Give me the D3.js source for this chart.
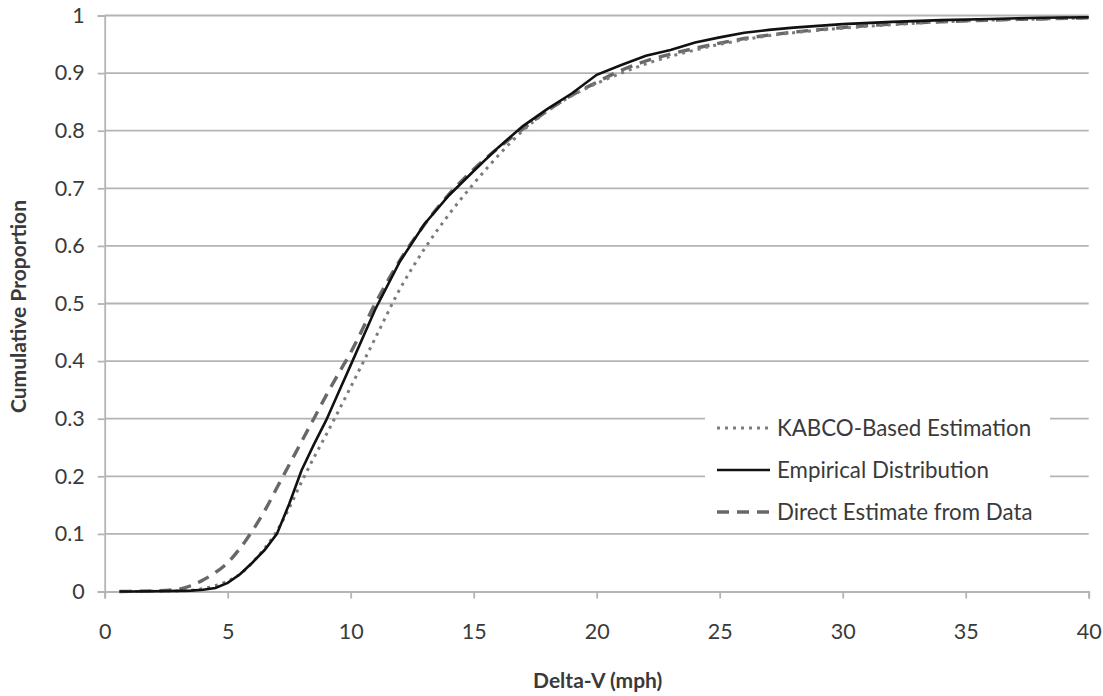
<!DOCTYPE html>
<html>
<head>
<meta charset="utf-8">
<script src="https://cdn.jsdelivr.net/npm/d3@7"></script>
<style>
  html, body { margin: 0; padding: 0; background: #fff; }
  svg { display: block; }
  text { font-family: Lato, "Open Sans", sans-serif; fill: #3a3a3a; }
</style>
</head>
<body>
<svg id="chart" width="1103" height="696"></svg>
<script>
// ---- data ----
const deltaV = [0.6, 1, 2, 3, 3.5, 4, 4.5, 5, 5.5, 6, 6.5, 7, 7.5, 8, 8.5, 9, 9.5, 10, 11, 12, 13, 14, 15, 16, 17, 18, 19, 20, 21, 22, 23, 24, 25, 26, 27, 28, 30, 32, 34, 36, 38, 40];
const kabco     = [0, 0, 0.0003, 0.001, 0.002, 0.005, 0.01, 0.018, 0.03, 0.05, 0.075, 0.105, 0.145, 0.19, 0.232, 0.272, 0.313, 0.355, 0.44, 0.525, 0.595, 0.655, 0.708, 0.757, 0.8, 0.834, 0.861, 0.882, 0.9, 0.916, 0.929, 0.94, 0.95, 0.958, 0.965, 0.97, 0.978, 0.984, 0.989, 0.992, 0.994, 0.996];
const empirical = [0, 0, 0.0005, 0.001, 0.0015, 0.003, 0.006, 0.015, 0.03, 0.05, 0.072, 0.1, 0.152, 0.21, 0.255, 0.297, 0.345, 0.393, 0.49, 0.573, 0.638, 0.688, 0.73, 0.771, 0.808, 0.838, 0.865, 0.897, 0.914, 0.93, 0.94, 0.953, 0.962, 0.97, 0.975, 0.979, 0.985, 0.989, 0.992, 0.994, 0.996, 0.997];
const direct    = [0, 0.0003, 0.001, 0.004, 0.01, 0.02, 0.033, 0.05, 0.075, 0.105, 0.14, 0.18, 0.22, 0.26, 0.3, 0.34, 0.378, 0.415, 0.5, 0.575, 0.637, 0.69, 0.733, 0.77, 0.803, 0.835, 0.862, 0.884, 0.905, 0.921, 0.933, 0.943, 0.952, 0.96, 0.966, 0.971, 0.979, 0.985, 0.989, 0.992, 0.994, 0.996];
const seriesNames = ["KABCO-Based Estimation", "Empirical Distribution", "Direct Estimate from Data"];
const xTicks = [0, 5, 10, 15, 20, 25, 30, 35, 40];
const yTicks = [0, 0.1, 0.2, 0.3, 0.4, 0.5, 0.6, 0.7, 0.8, 0.9, 1];
const xTitle = "Delta-V (mph)";
const yTitle = "Cumulative Proportion";

// ---- layout ----
const svg = d3.select("#chart");
const pLeft = 104.7, pRight = 1088.7, pTop = 15.5, pBottom = 591.5;
const x = d3.scaleLinear().domain([0, 40]).range([pLeft, pRight]);
const y = d3.scaleLinear().domain([0, 1]).range([pBottom, pTop]);
const gridColor = "#b4b4b4";
const labelSize = 21.5;

// gridlines
svg.append("g").selectAll("line").data(yTicks.filter(d => d > 0)).join("line")
  .attr("x1", pLeft).attr("x2", pRight)
  .attr("y1", d => y(d)).attr("y2", d => y(d))
  .attr("stroke", gridColor).attr("stroke-width", 1.8);

// y axis
const yAxis = svg.append("g").attr("transform", `translate(${pLeft},0)`)
  .call(d3.axisLeft(y).tickValues(yTicks).tickFormat(d => String(+d.toFixed(1))).tickSize(7).tickPadding(13));
yAxis.select(".domain").attr("stroke", gridColor).attr("stroke-width", 1.8);
yAxis.selectAll(".tick line").attr("stroke", gridColor).attr("stroke-width", 1.8);
yAxis.selectAll(".tick text").attr("font-size", labelSize).attr("font-family", "Lato, sans-serif").attr("fill", "#3a3a3a");

// x axis
const xAxis = svg.append("g").attr("transform", `translate(0,${pBottom})`)
  .call(d3.axisBottom(x).tickValues(xTicks).tickSize(7).tickPadding(25));
xAxis.select(".domain").attr("stroke", gridColor).attr("stroke-width", 1.8);
xAxis.selectAll(".tick line").attr("stroke", gridColor).attr("stroke-width", 1.8);
xAxis.selectAll(".tick text").attr("font-size", labelSize).attr("font-family", "Lato, sans-serif").attr("fill", "#3a3a3a");

// titles
svg.append("text").attr("x", (pLeft + pRight) / 2 + 1).attr("y", 688)
  .attr("text-anchor", "middle").attr("font-size", 21).attr("font-weight", "bold").attr("fill", "#222").text(xTitle);
svg.append("text").attr("transform", `translate(26,${(pTop + pBottom) / 2 + 3}) rotate(-90)`)
  .attr("text-anchor", "middle").attr("font-size", 21).attr("font-weight", "bold").attr("fill", "#222").text(yTitle);

// lines
const styles = [
  { data: kabco, color: "#7c7c7c", width: 3, dash: "3,5", curve: d3.curveMonotoneX },
  { data: empirical, color: "#111", width: 2.6, dash: null, curve: d3.curveLinear },
  { data: direct, color: "#686868", width: 3.4, dash: "12,8", curve: d3.curveMonotoneX }
];
const plot = svg.append("g");
[2, 0, 1].forEach(i => {
  const s = styles[i];
  const line = d3.line().x((d, j) => x(deltaV[j])).y(d => y(d)).curve(s.curve);
  plot.append("path").datum(s.data)
    .attr("d", line).attr("fill", "none")
    .attr("stroke", s.color).attr("stroke-width", s.width)
    .attr("stroke-dasharray", s.dash);
});

// legend
const lg = svg.append("g");
lg.append("rect").attr("x", 705).attr("y", 406).attr("width", 345).attr("height", 122).attr("fill", "#fff");
const rowsY = [428, 470, 512];
seriesNames.forEach((name, i) => {
  const s = styles[i];
  lg.append("line").attr("x1", 717).attr("x2", 770).attr("y1", rowsY[i]).attr("y2", rowsY[i])
    .attr("stroke", s.color).attr("stroke-width", s.width).attr("stroke-dasharray", s.dash);
  lg.append("text").attr("x", 777).attr("y", rowsY[i]).attr("dy", "0.35em")
    .attr("font-size", 22.3).text(name);
});
</script>
</body>
</html>
